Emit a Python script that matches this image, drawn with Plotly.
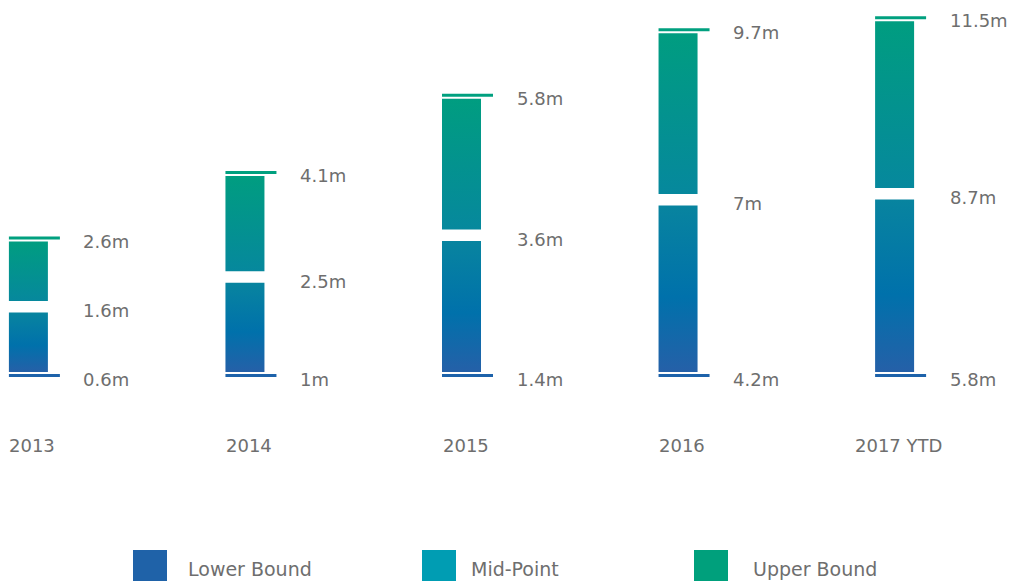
import plotly.graph_objects as go

# ---------------- data ----------------
years = ["2013", "2014", "2015", "2016", "2017 YTD"]
lower = [0.6, 1.0, 1.4, 4.2, 5.8]
mid = [1.6, 2.5, 3.6, 7.0, 8.7]
upper = [2.6, 4.1, 5.8, 9.7, 11.5]
legend_names = ["Lower Bound", "Mid-Point", "Upper Bound"]

# ---------------- style ----------------
W, H = 1014, 584
PX_X, X0_PX = 216.55, 28.4      # pixels per category step, first centre
PX_Y, BASE_PX = 59.5, 372.0     # pixels per unit (m), baseline pixel from top
GAP = 11.5 / PX_Y
HW = 19.5 / PX_X
LINE_L, LINE_R = -19.5 / PX_X, 31.5 / PX_X
LINE_OFF = 3.5 / PX_Y
LABEL_DX = 53 / PX_X
TEXT = "#6e6e6e"
FONT = "DejaVu Sans"

lower_cs = [[0, "#2560a8"], [0.45, "#0071ab"], [1, "#08849f"]]
upper_cs = [[0, "#06889d"], [1, "#009d80"]]
bottom_line = "#1d62aa"
top_line = "#00a07f"
legend_colors = ["#1f62a8", "#009db3", "#00a07c"]

fig = go.Figure()
annotations = []

for i, yr in enumerate(years):
    h_low = mid[i] - lower[i]
    h_up = upper[i] - mid[i]
    b_up = h_low + GAP
    t_up = b_up + h_up
    xs = [i - HW, i + HW, i + HW, i - HW, i - HW]
    # lower segment
    fig.add_trace(go.Scatter(
        x=xs, y=[0, 0, h_low, h_low, 0], mode="lines", fill="toself",
        line=dict(width=0, color="rgba(0,0,0,0)"),
        fillgradient=dict(type="vertical", colorscale=lower_cs, start=0, stop=h_low),
        hoverinfo="skip", showlegend=False))
    # upper segment
    fig.add_trace(go.Scatter(
        x=xs, y=[b_up, b_up, t_up, t_up, b_up], mode="lines", fill="toself",
        line=dict(width=0, color="rgba(0,0,0,0)"),
        fillgradient=dict(type="vertical", colorscale=upper_cs, start=b_up, stop=t_up),
        hoverinfo="skip", showlegend=False))
    # bound lines
    fig.add_trace(go.Scatter(
        x=[i + LINE_L, i + LINE_R], y=[-LINE_OFF, -LINE_OFF], mode="lines",
        line=dict(width=3, color=bottom_line), hoverinfo="skip", showlegend=False))
    fig.add_trace(go.Scatter(
        x=[i + LINE_L, i + LINE_R], y=[t_up + LINE_OFF, t_up + LINE_OFF], mode="lines",
        line=dict(width=3, color=top_line), hoverinfo="skip", showlegend=False))

    # value labels
    for val, yv, ys in [(upper[i], t_up + LINE_OFF, -3),
                        (mid[i], h_low + GAP / 2, -4),
                        (lower[i], -LINE_OFF, -4)]:
        annotations.append(dict(
            x=i + LABEL_DX, y=yv, xref="x", yref="y", text=f"{val:g}m",
            showarrow=False, xanchor="left", yanchor="middle", yshift=ys,
            font=dict(family=FONT, size=18, color=TEXT)))
    # year labels
    annotations.append(dict(
        x=i + 4 / PX_X, y=1 - 445 / H, xref="x", yref="paper", text=yr,
        showarrow=False, xanchor="center", yanchor="middle",
        font=dict(family=FONT, size=18, color=TEXT)))

# custom legend
shapes = []
leg_sq_x = [133, 422, 694]
leg_txt_x = [186, 469, 751]
for name, col, sx, tx in zip(legend_names, legend_colors, leg_sq_x, leg_txt_x):
    shapes.append(dict(type="rect", xref="paper", yref="paper",
                       x0=sx / W, x1=(sx + 34) / W, y0=1 - 581 / H, y1=1 - 550 / H,
                       fillcolor=col, line=dict(width=0)))
    annotations.append(dict(
        x=tx / W, y=1 - 569 / H, xref="paper", yref="paper", text=name,
        showarrow=False, xanchor="left", yanchor="middle",
        font=dict(family=FONT, size=19, color=TEXT)))

fig.update_layout(
    width=W, height=H,
    margin=dict(l=0, r=0, t=0, b=0),
    paper_bgcolor="white", plot_bgcolor="white",
    xaxis=dict(range=[-X0_PX / PX_X, (W - X0_PX) / PX_X], visible=False, fixedrange=True),
    yaxis=dict(range=[-(H - BASE_PX) / PX_Y, BASE_PX / PX_Y], visible=False, fixedrange=True),
    shapes=shapes, annotations=annotations,
    showlegend=False,
)

fig.write_html("out.html",
               config={"displayModeBar": False},
               post_script="document.body.style.margin='0';document.body.style.overflow='hidden';")
